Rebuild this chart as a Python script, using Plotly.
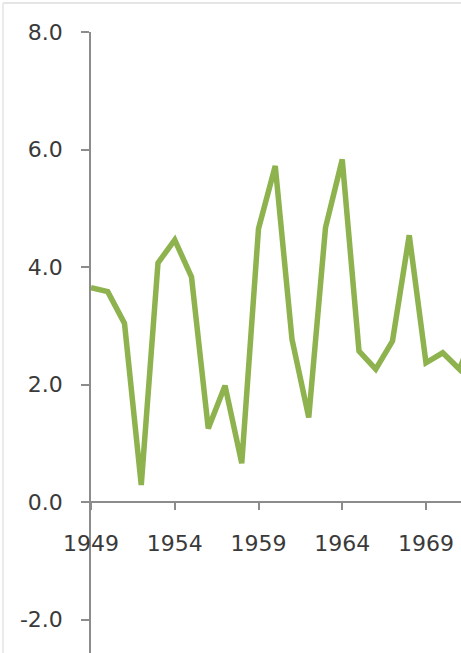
import plotly.graph_objects as go

years = list(range(1949, 1973))
values = [3.65, 3.58, 3.04, 0.29, 4.07, 4.46, 3.83, 1.25, 1.98, 0.66,
          4.65, 5.72, 2.77, 1.44, 4.67, 5.83, 2.57, 2.26, 2.74, 4.54,
          2.37, 2.54, 2.26, 3.0]
x_ticks = [1949, 1954, 1959, 1964, 1969]
y_ticks = [-2, 0, 2, 4, 6, 8]
y_tick_text = ["-2.0", "0.0", "2.0", "4.0", "6.0", "8.0"]

W, H = 461, 653
ML, MT = 91, 32
ymin, ymax = -2.57, 8.0
xmin, xmax = 1949, 1971.09

fig = go.Figure()
fig.add_trace(go.Scatter(x=years, y=values, mode="lines",
                         line=dict(color="#8DB24E", width=5.5),
                         cliponaxis=True, showlegend=False))

axis_color = "#8c8c8c"
font = dict(family="DejaVu Sans", size=22, color="#3a3a3a")

fx0 = (3 - ML) / (W - ML)
fy1 = (H - 3) / (H - MT)

fig.update_layout(
    width=W, height=H,
    margin=dict(l=ML, r=0, t=MT, b=0, pad=0),
    paper_bgcolor="white", plot_bgcolor="white",
    xaxis=dict(range=[xmin, xmax], tickvals=x_ticks, ticktext=[str(v) for v in x_ticks],
               showgrid=False, zeroline=False, showline=True, linecolor=axis_color, linewidth=1.5,
               ticks="outside", ticklen=7, tickcolor=axis_color, tickwidth=1.5,
               anchor="free", position=(0 - ymin) / (ymax - ymin),
               tickfont=font, ticklabelstandoff=15),
    yaxis=dict(range=[ymin, ymax], tickvals=y_ticks, ticktext=y_tick_text,
               showgrid=False, zeroline=False, showline=True, linecolor=axis_color, linewidth=1.5,
               ticks="outside", ticklen=8, tickcolor=axis_color, tickwidth=1.5,
               tickfont=font, ticklabelstandoff=14),
    shapes=[
        dict(type="line", xref="paper", yref="paper", x0=fx0, x1=1.0, y0=fy1, y1=fy1,
             line=dict(color="#dcdcdc", width=1.5)),
        dict(type="line", xref="paper", yref="paper", x0=fx0, x1=fx0, y0=0, y1=fy1,
             line=dict(color="#e4e4e4", width=1.5)),
    ],
)

fig.write_html("out.html", config={"displayModeBar": False},
               post_script="document.body.style.margin='0';document.body.style.overflow='hidden';")
